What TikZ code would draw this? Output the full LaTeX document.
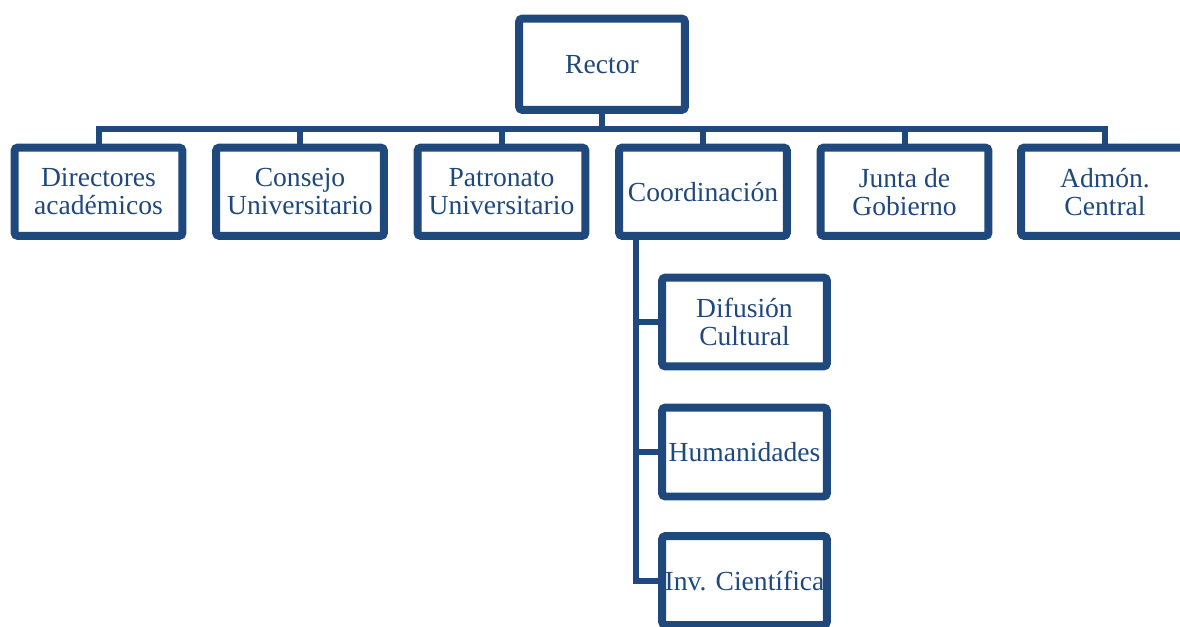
\documentclass[tikz,border=0pt]{standalone}
\usepackage{fontspec}
\setmainfont{Liberation Serif}
\usepackage{xcolor}
\usepackage{tikz}
\usetikzlibrary{calc,shadows}
\definecolor{orgblue}{RGB}{31, 73, 125}

\begin{document}
\begin{tikzpicture}[x=0.02cm, y=-0.02cm,
    box/.style={rectangle, rounded corners=2pt, draw=orgblue,
                line width=0.16cm, fill=white, minimum width=3.36cm,
                minimum height=1.77cm, inner sep=0pt, align=center,
                text=orgblue, font=\fontsize{15.7}{15.9}\selectfont,
                drop shadow={opacity=0.25, shadow xshift=0.4pt,
                             shadow yshift=-1pt}},
    unit/.style={box, text depth=-3.4pt},
    head/.style={unit, minimum width=3.32cm, minimum height=1.83cm},
    sub/.style={box, minimum width=3.3cm, minimum height=1.78cm},
    link/.style={line width=0.12cm, color=orgblue}]

    \useasboundingbox (0,0) rectangle (1180,626);

    % Connectors
    \coordinate (bus) at (602,129);
    \draw[link] (602,64) -- (bus);
    \foreach \n/\x in {dir/98.5, con/300, pat/501.5, coo/703, jun/904.5, adm/1105}
        \draw[link] (bus) -| (\x,191);
    \foreach \s/\y in {dif/322, hum/452, inv/580.5}
        \draw[link] (635.5,191) |- (744.5,\y);

    % Rector
    \node[head] (rector) at (602,64.25) {Rector};

    % First level
    \node[unit] (dir) at (98.5,191.75)  {Directores\\académicos};
    \node[unit] (con) at (300,191.75)   {Consejo\\Universitario};
    \node[unit] (pat) at (501.5,191.75) {Patronato\\Universitario};
    \node[unit] (coo) at (703,191.75)   {Coordinación};
    \node[unit] (jun) at (904.5,191.75) {Junta de\\Gobierno};
    \node[unit] (adm) at (1105,191.75)  {Admón.\\Central};

    % Coordination
    \node[sub] (dif) at (744.5,322)   {Difusión\\Cultural};
    \node[sub] (hum) at (744.5,452)   {Humanidades};
    \node[sub] (inv) at (744.5,580.5) {Inv. Científica};
\end{tikzpicture}
\end{document}
